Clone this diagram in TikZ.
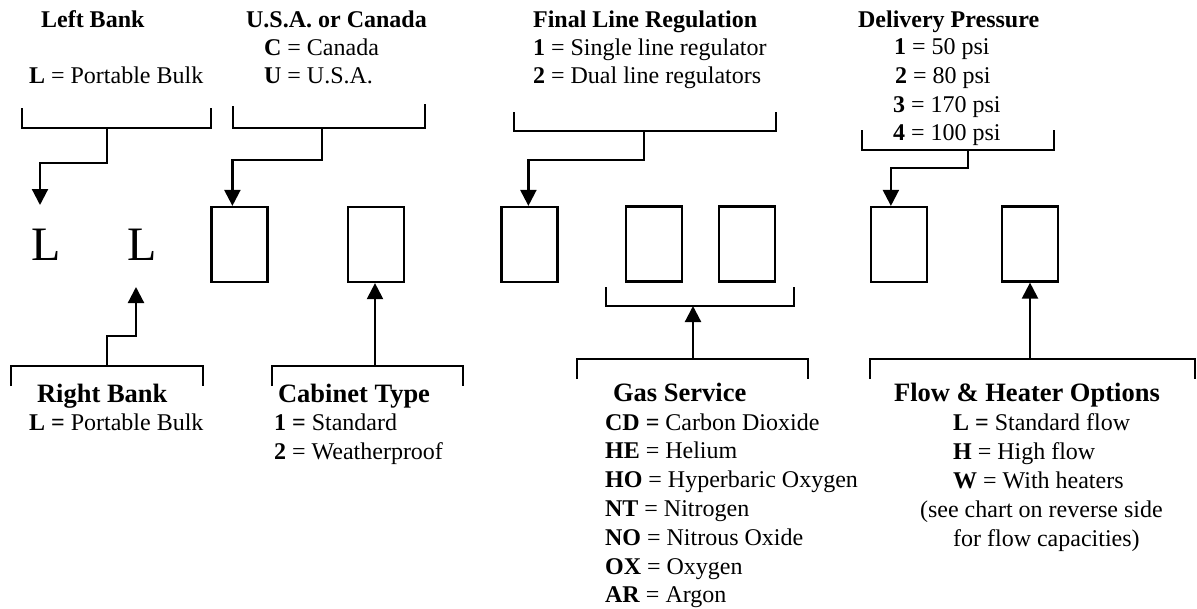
\documentclass[tikz,border=0pt]{standalone}
\usepackage{fontspec}
\setmainfont{Liberation Serif}
\usetikzlibrary{arrows.meta,calc}
\begin{document}
\begin{tikzpicture}[x=1pt,y=-1pt,line width=2.2pt,
  txt/.style={anchor=base west,inner sep=0pt,font=\fontsize{24}{28}\selectfont},
  hdr/.style={anchor=base west,inner sep=0pt,font=\fontsize{24}{28}\selectfont\bfseries},
  bhdr/.style={anchor=base west,inner sep=0pt,font=\fontsize{26.5}{30}\selectfont\bfseries},
  slot/.style={draw,minimum width=56pt,minimum height=75pt,inner sep=0pt},
  bigL/.style={anchor=base west,inner sep=0pt,font=\fontsize{48}{50}\selectfont},
  arr/.style={-{Triangle[length=16pt,width=16pt]}},
  brk/.style={line join=miter}]
\useasboundingbox (0,0) rectangle (1197,608);

% code positions
\node[bigL] (L1) at (30,260) {L};
\node[bigL] (L2) at (126,260) {L};
\node[slot] (b1) at (239.5,244.5) {};
\node[slot] (b2) at (376,244.5) {};
\node[slot] (b3) at (529.5,244.5) {};
\node[slot] (b4) at (654,244) {};
\node[slot] (b5) at (747,244) {};
\node[slot] (b6) at (899,244.5) {};
\node[slot] (b7) at (1030,244) {};

% top labels
\node[hdr] (tLB) at (40,27) {Left Bank};
\node[txt] (tLB1) at (28,83) {\textbf{L} = Portable Bulk};
\node[hdr] (tUS) at (245,27) {U.S.A. or Canada};
\node[txt] (tUS1) at (263,55) {\textbf{C} = Canada};
\node[txt] (tUS2) at (263,83) {\textbf{U} = U.S.A.};
\node[hdr] (tFL) at (532,27) {Final Line Regulation};
\node[txt] (tFL1) at (532,55) {\textbf{1} = Single line regulator};
\node[txt] (tFL2) at (532,83) {\textbf{2} = Dual line regulators};
\node[hdr] (tDP) at (857,27) {Delivery Pressure};
\node[txt] (tDP1) at (893,54.5) {\textbf{1} = 50 psi};
\node[txt] (tDP2) at (894,83) {\textbf{2} = 80 psi};
\node[txt] (tDP3) at (892,112) {\textbf{3} = 170 psi};
\node[txt] (tDP4) at (892,140) {\textbf{4} = 100 psi};

% bottom labels
\node[bhdr] (tRB) at (36,402) {Right Bank};
\node[txt] (tRB1) at (28,430) {\textbf{L =} Portable Bulk};
\node[bhdr] (tCT) at (277,402) {Cabinet Type};
\node[txt] (tCT1) at (273,430) {\textbf{1 =} Standard};
\node[txt] (tCT2) at (273,459) {\textbf{2} = Weatherproof};
\node[bhdr] (tGS) at (612,401) {Gas Service};
\node[txt] (tGS1) at (604,430) {\textbf{CD =} Carbon Dioxide};
\node[txt] (tGS2) at (604,458.8) {\textbf{HE} = Helium};
\node[txt] (tGS3) at (604,487.6) {\textbf{HO} = Hyperbaric Oxygen};
\node[txt] (tGS4) at (604,516.4) {\textbf{NT} = Nitrogen};
\node[txt] (tGS5) at (604,545.2) {\textbf{NO} = Nitrous Oxide};
\node[txt] (tGS6) at (604,574) {\textbf{OX} = Oxygen};
\node[txt] (tGS7) at (604,602.8) {\textbf{AR} = Argon};
\node[bhdr] (tFH) at (893,401) {Flow \& Heater Options};
\node[txt] (tFH1) at (952,430) {\textbf{L =} Standard flow};
\node[txt] (tFH2) at (952,459) {\textbf{H} = High flow};
\node[txt] (tFH3) at (952,488) {\textbf{W} = With heaters};
\node[txt] (tFH4) at (919,517) {(see chart on reverse side};
\node[txt] (tFH5) at (952,546) {for flow capacities)};

% brackets
\draw[brk] (22,108) -- (22,128) -- (211,128) -- (211,108);
\coordinate (sLB) at (107,128);
\draw[brk] (233,106) -- (233,128) -- (425,128) -- (425,104);
\coordinate (sUS) at (322,128);
\draw[brk] (514,112) -- (514,131) -- (776,131) -- (776,112);
\coordinate (sFL) at (644,131);
\draw[brk] (862,130) -- (862,150) -- (1054,150) -- (1054,130);
\coordinate (sDP) at (968,150);
\draw[brk] (11,386) -- (11,366) -- (203,366) -- (203,386);
\coordinate (sRB) at (107,366);
\draw[brk] (272,386) -- (272,366) -- (463,366) -- (463,386);
\coordinate (sCT) at (375,366);
\draw[brk] (606,287) -- (606,306) -- (794,306) -- (794,287);
\coordinate (gU) at (693,306);
\draw[brk] (577,379) -- (577,359) -- (808,359) -- (808,379);
\coordinate (sGS) at (693,359);
\draw[brk] (870,379) -- (870,359) -- (1195,359) -- (1195,379);
\coordinate (sFH) at (1030,359);

% targets
\coordinate (aL1) at (40,205);
\coordinate (aL2) at (136,287);

% connectors
\draw[arr] (sLB) -- ++(0,35) -| (aL1);
\draw[arr] (sUS) -- ++(0,32) -| ($(b1.north west)+(22,0)$);
\draw[arr] (sFL) -- ++(0,29) -| ($(b3.north west)+(28,0)$);
\draw[arr] (sDP) -- ++(0,18) -| ($(b6.north west)+(21,0)$);
\draw[arr] (sRB) -- ++(0,-30) -| (aL2);
\draw[arr] (sCT) -- (sCT |- b2.south);
\draw[arr] (sGS) -- (gU);
\draw[arr] (sFH) -- (b7.south);
\end{tikzpicture}
\end{document}
